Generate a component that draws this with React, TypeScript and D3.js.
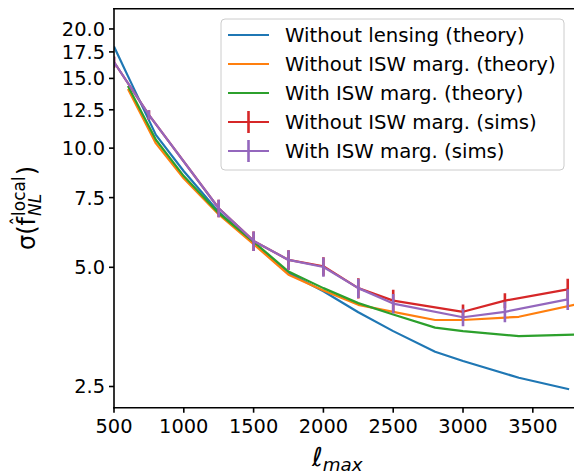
import * as d3 from "d3";
import { useEffect, useRef } from "react";

// ell_max grids
const blueEll = [500, 600, 800, 1000, 1250, 1500, 1750, 2000, 2250, 2500, 2800, 3000, 3400, 3760];
const theoryEll = [600, 800, 1000, 1250, 1500, 1750, 2000, 2250, 2500, 2800, 3000, 3400, 3800];
const simsEll = [500, 750, 1250, 1500, 1750, 2000, 2250, 2500, 3000, 3300, 3750];

// sigma(f_NL) values
const noLensing = [18.05, 15.2, 10.8, 8.74, 6.9, 5.75, 4.84, 4.35, 3.85, 3.45, 3.06, 2.9, 2.63, 2.46];
const noIswTheory = [14.1, 10.28, 8.38, 6.8, 5.72, 4.79, 4.37, 4.02, 3.86, 3.68, 3.68, 3.75, 4.02];
const withIswTheory = [14.35, 10.5, 8.5, 6.85, 5.8, 4.88, 4.43, 4.06, 3.8, 3.52, 3.45, 3.35, 3.38];
const noIswSims = [16.5, 12.13, 7.05, 5.83, 5.22, 5.03, 4.43, 4.12, 3.86, 4.12, 4.4];
const noIswSimsErr = [0.55, 0.33, 0.36, 0.33, 0.3, 0.27, 0.26, 0.27, 0.17, 0.18, 0.28];
const withIswSims = [16.5, 12.13, 7.05, 5.83, 5.22, 5.01, 4.43, 4.05, 3.74, 3.86, 4.15];
const withIswSimsErr = [0.5, 0.33, 0.36, 0.33, 0.3, 0.28, 0.25, 0.23, 0.19, 0.23, 0.25];

const xTicks = [500, 1000, 1500, 2000, 2500, 3000, 3500];
const yTicks = [2.5, 5.0, 7.5, 10.0, 12.5, 15.0, 17.5, 20.0];

const legendLabels = [
  "Without lensing (theory)",
  "Without ISW marg. (theory)",
  "With ISW marg. (theory)",
  "Without ISW marg. (sims)",
  "With ISW marg. (sims)",
];
const colors = ["#1f77b4", "#ff7f0e", "#2ca02c", "#d62728", "#9467bd"];

const FONT = "DejaVu Sans";

export default function App() {
  const svgRef = useRef<SVGSVGElement>(null);

  useEffect(() => {
    if (!svgRef.current) return;
    const svg = d3.select(svgRef.current);
    svg.selectAll("*").remove();

    const left = 114;
    const right = 574.7;
    const top = 8.7;
    const bottom = 407.7;

    const x = d3.scaleLinear().domain([500, 3800]).range([left, right]);
    const y = d3.scaleLog().domain([2.21, 22.5]).range([bottom, top]);

    svg
      .append("defs")
      .append("clipPath")
      .attr("id", "plot-clip")
      .append("rect")
      .attr("x", left)
      .attr("y", top)
      .attr("width", right - left)
      .attr("height", bottom - top);

    const plot = svg.append("g").attr("clip-path", "url(#plot-clip)");

    const line = d3
      .line<[number, number]>()
      .x((d) => x(d[0]))
      .y((d) => y(d[1]));

    const theory: [number[], number[], string][] = [
      [blueEll, noLensing, colors[0]],
      [theoryEll, noIswTheory, colors[1]],
      [theoryEll, withIswTheory, colors[2]],
    ];
    theory.forEach(([xs, ys, c]) => {
      plot
        .append("path")
        .datum(xs.map((v, i) => [v, ys[i]] as [number, number]))
        .attr("fill", "none")
        .attr("stroke", c)
        .attr("stroke-width", 2.2)
        .attr("stroke-linejoin", "round")
        .attr("d", line);
    });

    const sims: [number[], number[], string][] = [
      [noIswSims, noIswSimsErr, colors[3]],
      [withIswSims, withIswSimsErr, colors[4]],
    ];
    sims.forEach(([ys, errs, c]) => {
      plot
        .append("path")
        .datum(simsEll.map((v, i) => [v, ys[i]] as [number, number]))
        .attr("fill", "none")
        .attr("stroke", c)
        .attr("stroke-width", 2.2)
        .attr("stroke-linejoin", "round")
        .attr("d", line);
      plot
        .selectAll(null)
        .data(simsEll)
        .enter()
        .append("line")
        .attr("x1", (d) => x(d))
        .attr("x2", (d) => x(d))
        .attr("y1", (_, i) => y(ys[i] - errs[i]))
        .attr("y2", (_, i) => y(ys[i] + errs[i]))
        .attr("stroke", c)
        .attr("stroke-width", 2.6);
    });

    // spines
    const spines = svg.append("g").attr("stroke", "black").attr("stroke-width", 1.6);
    spines.append("line").attr("x1", left).attr("x2", left).attr("y1", top).attr("y2", bottom).attr("stroke-linecap", "square");
    spines.append("line").attr("x1", left).attr("x2", 580).attr("y1", bottom).attr("y2", bottom).attr("stroke-linecap", "square");
    spines.append("line").attr("x1", left).attr("x2", 580).attr("y1", top).attr("y2", top).attr("stroke-linecap", "square");

    // x ticks
    const xg = svg.append("g");
    xTicks.forEach((t) => {
      xg.append("line")
        .attr("x1", x(t))
        .attr("x2", x(t))
        .attr("y1", bottom)
        .attr("y2", bottom + 5)
        .attr("stroke", "black")
        .attr("stroke-width", 1.6);
      xg.append("text")
        .attr("x", x(t))
        .attr("y", 433)
        .attr("text-anchor", "middle")
        .attr("font-family", FONT)
        .attr("font-size", 19.4)
        .attr("fill", "black")
        .text(String(t));
    });

    // y ticks
    const yg = svg.append("g");
    yTicks.forEach((t) => {
      yg.append("line")
        .attr("x1", left - 5)
        .attr("x2", left)
        .attr("y1", y(t))
        .attr("y2", y(t))
        .attr("stroke", "black")
        .attr("stroke-width", 1.6);
      yg.append("text")
        .attr("x", left - 9)
        .attr("y", y(t) + 7)
        .attr("text-anchor", "end")
        .attr("font-family", FONT)
        .attr("font-size", 19.4)
        .attr("fill", "black")
        .text(t.toFixed(1));
    });

    // x label: ell_max
    const xl = svg.append("text").attr("font-family", FONT).attr("fill", "black").attr("y", 466);
    xl.append("tspan").attr("x", 312).attr("font-size", 26).attr("font-style", "italic").text("ℓ");
    xl.append("tspan").attr("dy", 5).attr("font-size", 18.3).attr("font-style", "italic").text("max");

    // y label: sigma(f_hat_NL^local), built in a rotated group
    const yl = svg.append("g").attr("font-family", FONT).attr("fill", "black");
    const pieces = yl.append("g");
    let cx = 0;
    const put = (txt: string, size: number, dy: number, italic: boolean) => {
      const t = pieces
        .append("text")
        .attr("x", cx)
        .attr("y", dy)
        .attr("font-size", size)
        .attr("font-style", italic ? "italic" : "normal")
        .text(txt);
      return t;
    };
    const s1 = put("σ(", 24, 0, false);
    cx += (s1.node() as SVGTextElement).getComputedTextLength();
    const fx = cx;
    const f = put("f", 24, 0, false);
    const fw = (f.node() as SVGTextElement).getComputedTextLength();
    pieces
      .append("text")
      .attr("x", fx + fw / 2)
      .attr("y", -11)
      .attr("font-size", 18)
      .attr("text-anchor", "middle")
      .text("ˆ");
    cx += fw + 1;
    const sup = put("local", 17, -10, false);
    const sub = put("NL", 17, 6, true);
    cx += Math.max(
      (sup.node() as SVGTextElement).getComputedTextLength(),
      (sub.node() as SVGTextElement).getComputedTextLength(),
    ) + 1;
    const close = put(")", 24, 0, false);
    const total = cx + (close.node() as SVGTextElement).getComputedTextLength();
    pieces.attr("transform", `translate(${-total / 2},0)`);
    yl.attr("transform", "translate(35,208) rotate(-90)");

    // legend
    const lg = svg.append("g");
    lg.append("rect")
      .attr("x", 221)
      .attr("y", 19)
      .attr("width", 343)
      .attr("height", 151)
      .attr("rx", 4)
      .attr("fill", "white")
      .attr("fill-opacity", 0.8)
      .attr("stroke", "#cccccc")
      .attr("stroke-width", 1);
    legendLabels.forEach((label, i) => {
      const cy = 35 + i * 29;
      lg.append("line")
        .attr("x1", 228)
        .attr("x2", 269)
        .attr("y1", cy)
        .attr("y2", cy)
        .attr("stroke", colors[i])
        .attr("stroke-width", 2.2);
      if (i >= 3) {
        lg.append("line")
          .attr("x1", 248.5)
          .attr("x2", 248.5)
          .attr("y1", cy - 11)
          .attr("y2", cy + 11)
          .attr("stroke", colors[i])
          .attr("stroke-width", 2.6);
      }
      lg.append("text")
        .attr("x", 285)
        .attr("y", cy + 7)
        .attr("font-family", FONT)
        .attr("font-size", 19.7)
        .attr("fill", "black")
        .text(label);
    });
  }, []);

  return (
    <svg
      ref={svgRef}
      width={574}
      height={475}
      style={{ position: "absolute", left: 0, top: 0, background: "white" }}
    />
  );
}
